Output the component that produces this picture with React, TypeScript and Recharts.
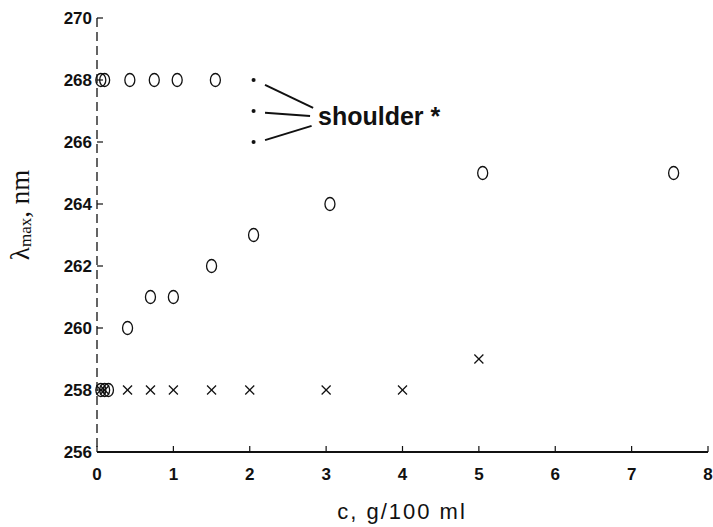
import React from "react";
import {
  ScatterChart,
  Scatter,
  XAxis,
  YAxis,
  ReferenceLine,
  ReferenceDot,
} from "recharts";

// circles, upper branch (268 nm)
const upperX = [0.05, 0.1, 0.43, 0.75, 1.05, 1.55];
const upperY = [268, 268, 268, 268, 268, 268];

// circles, rising branch
const risingX = [0.05, 0.1, 0.15, 0.4, 0.7, 1.0, 1.5, 2.05, 3.05, 5.05, 7.55];
const risingY = [258, 258, 258, 260, 261, 261, 262, 263, 264, 265, 265];

// crosses
const crossX = [0.05, 0.1, 0.4, 0.7, 1.0, 1.5, 2.0, 3.0, 4.0, 5.0];
const crossY = [258, 258, 258, 258, 258, 258, 258, 258, 258, 259];

// shoulder points
const shoulderX = [2.05, 2.05, 2.05];
const shoulderY = [268, 267, 266];

const xTicks = [0, 1, 2, 3, 4, 5, 6, 7, 8];
const yTicks = [256, 258, 260, 262, 264, 266, 268, 270];

// pointer lines from the label to the shoulder points
const pointers: [number, number, number, number][] = [
  [2.2, 267.84, 2.83, 267.1],
  [2.2, 266.94, 2.79, 266.84],
  [2.2, 266.06, 2.81, 266.52],
];

const zip = (xs: number[], ys: number[]) => xs.map((x, i) => ({ x, y: ys[i] }));

const INK = "#111";
const tickFont = { fontSize: 17, fontWeight: 700, fill: INK, fontFamily: "'Liberation Sans', Arial, sans-serif" };

const Ring = (p: any) => (
  <ellipse cx={p.cx} cy={p.cy} rx={5} ry={6.5} fill="none" stroke={INK} strokeWidth={1.3} />
);

const Cross = (p: any) => (
  <g stroke={INK} strokeWidth={1.3}>
    <line x1={p.cx - 4.5} y1={p.cy - 4.5} x2={p.cx + 4.5} y2={p.cy + 4.5} />
    <line x1={p.cx - 4.5} y1={p.cy + 4.5} x2={p.cx + 4.5} y2={p.cy - 4.5} />
  </g>
);

const Dot = (p: any) => <circle cx={p.cx} cy={p.cy} r={2} fill={INK} />;

function YTitle() {
  return (
    <text
      x={20}
      y={215}
      transform="rotate(-90 20 215)"
      textAnchor="middle"
      dominantBaseline="central"
      fontFamily="'Liberation Serif', 'Times New Roman', serif"
      fontSize={27}
      fill={INK}
    >
      λ
      <tspan fontSize={17} dy={5}>max</tspan>
      <tspan dy={-5}>, nm</tspan>
    </text>
  );
}

function XTitle() {
  return (
    <text
      x={402}
      y={519}
      textAnchor="middle"
      fontFamily="'Liberation Sans', Arial, sans-serif"
      fontSize={22}
      letterSpacing={2}
      fill={INK}
    >
      c, g/100 ml
    </text>
  );
}

function ShoulderText(props: any) {
  const vb = props.viewBox || {};
  return (
    <text
      x={vb.x}
      y={vb.y}
      fontFamily="'Liberation Sans', Arial, sans-serif"
      fontSize={25}
      fontWeight={700}
      fill={INK}
    >
      shoulder *
    </text>
  );
}

export default function App() {
  return (
    <div style={{ position: "absolute", left: 0, top: 0, background: "#fff" }}>
      <ScatterChart width={713} height={527} margin={{ top: 18, right: 5, bottom: 0, left: 0 }}>
        <XAxis
          xAxisId="b"
          type="number"
          dataKey="x"
          domain={[0, 8]}
          ticks={xTicks}
          height={75}
          tickSize={-6}
          tickMargin={22}
          tick={tickFont}
          axisLine={{ stroke: INK, strokeWidth: 2 }}
          tickLine={{ stroke: INK, strokeWidth: 1.2 }}
          label={<XTitle />}
        />
        <XAxis
          xAxisId="t"
          orientation="top"
          type="number"
          dataKey="x"
          domain={[0, 8]}
          height={0}
          tick={false}
          tickLine={false}
          axisLine={{ stroke: INK, strokeWidth: 1.6 }}
        />
        <YAxis
          yAxisId="l"
          type="number"
          dataKey="y"
          domain={[256, 270]}
          ticks={yTicks}
          width={97}
          tickSize={-6}
          tickMargin={11}
          tick={tickFont}
          axisLine={{ stroke: INK, strokeWidth: 1.3, strokeDasharray: "9 5" }}
          tickLine={{ stroke: INK, strokeWidth: 1.2 }}
          label={<YTitle />}
        />
        <YAxis
          yAxisId="r"
          orientation="right"
          type="number"
          dataKey="y"
          domain={[256, 270]}
          width={0}
          tick={false}
          tickLine={false}
          axisLine={{ stroke: INK, strokeWidth: 1.3, strokeDasharray: "9 5" }}
        />
        {pointers.map(([x1, y1, x2, y2], i) => (
          <ReferenceLine
            key={i}
            xAxisId="b"
            yAxisId="l"
            segment={[{ x: x1, y: y1 }, { x: x2, y: y2 }]}
            stroke={INK}
            strokeWidth={2}
            ifOverflow="visible"
          />
        ))}
        <ReferenceDot
          xAxisId="b"
          yAxisId="l"
          x={2.894}
          y={266.55}
          r={0}
          stroke="none"
          fill="none"
          label={<ShoulderText />}
        />
        <Scatter xAxisId="b" yAxisId="l" data={zip(upperX, upperY)} shape={Ring} isAnimationActive={false} />
        <Scatter xAxisId="b" yAxisId="l" data={zip(risingX, risingY)} shape={Ring} isAnimationActive={false} />
        <Scatter xAxisId="b" yAxisId="l" data={zip(crossX, crossY)} shape={Cross} isAnimationActive={false} />
        <Scatter xAxisId="b" yAxisId="l" data={zip(shoulderX, shoulderY)} shape={Dot} isAnimationActive={false} />
      </ScatterChart>
    </div>
  );
}
